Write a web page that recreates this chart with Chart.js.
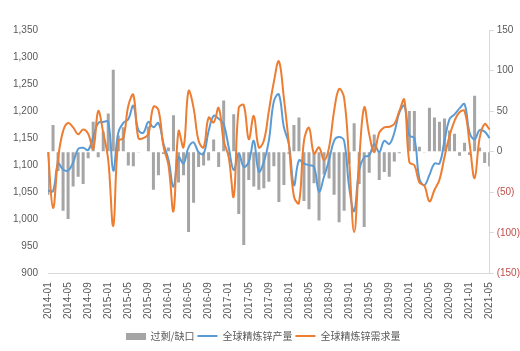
<!DOCTYPE html>
<html lang="zh">
<head>
<meta charset="UTF-8">
<title>全球精炼锌供需</title>
<script src="https://cdn.jsdelivr.net/npm/chart.js@4.4.0/dist/chart.umd.min.js"></script>
<style>
  html, body { margin: 0; padding: 0; background: #fff; }
  #wrap { width: 520px; height: 351px; }
</style>
</head>
<body>
<div id="wrap"><canvas id="zincChart"></canvas></div>
<script>
// categories: monthly, 2014-01 .. 2021-05
const months = [
  "2014-01","2014-02","2014-03","2014-04","2014-05","2014-06","2014-07","2014-08","2014-09","2014-10","2014-11","2014-12",
  "2015-01","2015-02","2015-03","2015-04","2015-05","2015-06","2015-07","2015-08","2015-09","2015-10","2015-11","2015-12",
  "2016-01","2016-02","2016-03","2016-04","2016-05","2016-06","2016-07","2016-08","2016-09","2016-10","2016-11","2016-12",
  "2017-01","2017-02","2017-03","2017-04","2017-05","2017-06","2017-07","2017-08","2017-09","2017-10","2017-11","2017-12",
  "2018-01","2018-02","2018-03","2018-04","2018-05","2018-06","2018-07","2018-08","2018-09","2018-10","2018-11","2018-12",
  "2019-01","2019-02","2019-03","2019-04","2019-05","2019-06","2019-07","2019-08","2019-09","2019-10","2019-11","2019-12",
  "2020-01","2020-02","2020-03","2020-04","2020-05","2020-06","2020-07","2020-08","2020-09","2020-10","2020-11","2020-12",
  "2021-01","2021-02","2021-03","2021-04","2021-05"
];

// 过剩/缺口 (right axis)
const gap = [
  -53, 33, -24, -73, -83, -43, -31, -40, -8, 37, -7, 25,
  47, 101, 20, 30, -17, -18, -1, 0, 31, -47, -29, -3,
  5, 45, -38, -29, -99, -63, -19, -17, -11, 15, -19, 63,
  -3, 46, -77, -115, -35, -43, -47, -45, -37, -18, -62, -41,
  -3, 33, 42, -61, -71, -39, -85, -28, -33, -53, -87, -73,
  -15, 35, -40, -93, -26, 21, -35, -25, -31, -12, -2, 0,
  50, 50, 6, -1, 54, 42, 37, 41, 26, 22, -5, 11,
  -4, 69, 5, -14, -18
];

// 全球精炼锌产量 (left axis)
const production = [
  1053, 1052, 1103, 1092, 1090, 1105, 1130, 1132, 1128, 1152, 1178, 1180,
  1180, 1090, 1160, 1178, 1185, 1210, 1165, 1160, 1180, 1170, 1178, 1140,
  1110, 1060, 1115, 1103, 1133, 1142, 1124, 1121, 1163, 1191, 1186, 1176,
  1133, 1091, 1121, 1097, 1106, 1145, 1088, 1106, 1145, 1218, 1231, 1170,
  1139, 1063, 1109, 1103, 1100, 1097, 1051, 1079, 1109, 1145, 1152, 1145,
  1060, 1015, 1091, 1115, 1118, 1139, 1124, 1145, 1139, 1160, 1197, 1210,
  1155, 1150, 1075, 1063, 1082, 1103, 1103, 1145, 1185, 1194, 1205, 1213,
  1160, 1148, 1165, 1162, 1150
];

// 全球精炼锌需求量 (left axis)
const demand = [
  1124, 1021, 1112, 1163, 1178, 1170, 1157, 1166, 1158, 1130, 1200, 1160,
  1109, 988, 1145, 1150, 1210, 1230, 1150, 1150, 1158, 1208, 1202, 1135,
  1100, 1015, 1163, 1133, 1237, 1206, 1145, 1133, 1188, 1179, 1206, 1145,
  1115, 1042, 1206, 1211, 1148, 1191, 1133, 1145, 1200, 1254, 1292, 1224,
  1139, 1042, 1030, 1145, 1169, 1121, 1133, 1109, 1133, 1200, 1241, 1224,
  1109, 976, 1109, 1207, 1157, 1124, 1160, 1170, 1171, 1176, 1200, 1221,
  1105, 1100, 1068, 1062, 1033, 1054, 1073, 1115, 1154, 1182, 1198, 1200,
  1140, 1076, 1150, 1176, 1166
];

const GREY = "#a5a5a5";
const BLUE = "#5b9bd5";
const ORANGE = "#ed7d31";
const TEXT = "#595959";
const FONT = "'Liberation Sans', sans-serif";

// legend swatch for the bars (flat grey box)
const swatch = document.createElement("canvas");
swatch.width = 20; swatch.height = 7;
const sctx = swatch.getContext("2d");
sctx.fillStyle = GREY;
sctx.fillRect(0, 0, 20, 7);

new Chart(document.getElementById("zincChart"), {
  data: {
    labels: months,
    datasets: [
      {
        type: "bar",
        label: "过剩/缺口",
        data: gap,
        yAxisID: "y1",
        backgroundColor: GREY,
        borderWidth: 0,
        barPercentage: 0.6,
        categoryPercentage: 1,
        pointStyle: swatch,
        order: 3
      },
      {
        type: "line",
        label: "全球精炼锌产量",
        data: production,
        yAxisID: "y",
        borderColor: BLUE,
        backgroundColor: BLUE,
        borderWidth: 2,
        pointRadius: 0,
        tension: 0.4,
        pointStyle: "line",
        order: 2
      },
      {
        type: "line",
        label: "全球精炼锌需求量",
        data: demand,
        yAxisID: "y",
        borderColor: ORANGE,
        backgroundColor: ORANGE,
        borderWidth: 2,
        pointRadius: 0,
        tension: 0.4,
        pointStyle: "line",
        order: 1
      }
    ]
  },
  options: {
    responsive: true,
    maintainAspectRatio: false,
    animation: false,
    layout: { padding: { left: 3, right: -3, top: 30, bottom: 0 } },
    plugins: {
      tooltip: { enabled: false },
      legend: {
        position: "bottom",
        labels: {
          usePointStyle: true,
          pointStyleWidth: 20,
          boxHeight: 7,
          padding: 3,
          color: TEXT,
          font: { family: "'Noto Sans CJK SC', sans-serif", size: 10 },
          sort: (a, b) => a.datasetIndex - b.datasetIndex
        }
      }
    },
    scales: {
      x: {
        offset: false,
        grid: { display: false, drawTicks: false },
        border: { display: true, color: "#d9d9d9", width: 1 },
        ticks: {
          autoSkip: false,
          minRotation: 90,
          maxRotation: 90,
          padding: 9,
          color: TEXT,
          font: { family: FONT, size: 10 },
          callback: function (value, index) {
            return index % 4 === 0 ? months[index] : "";
          }
        }
      },
      y: {
        position: "left",
        min: 900,
        max: 1350,
        grid: { display: false, drawTicks: false },
        border: { display: false },
        ticks: {
          stepSize: 50,
          color: TEXT,
          padding: 10,
          font: { family: FONT, size: 10 },
          callback: v => v.toLocaleString("en-US")
        }
      },
      y1: {
        position: "right",
        min: -150,
        max: 150,
        grid: { display: true, drawOnChartArea: false, drawTicks: true, tickLength: 4, color: "#d9d9d9" },
        border: { display: true, color: "#d9d9d9", width: 1 },
        ticks: {
          stepSize: 50,
          padding: 3,
          font: { family: FONT, size: 10 },
          color: ctx => ctx.tick && ctx.tick.value < 0 ? "#c0504d" : TEXT,
          callback: v => v < 0 ? "(" + (-v) + ")" : String(v)
        }
      }
    }
  }
});
</script>
</body>
</html>
